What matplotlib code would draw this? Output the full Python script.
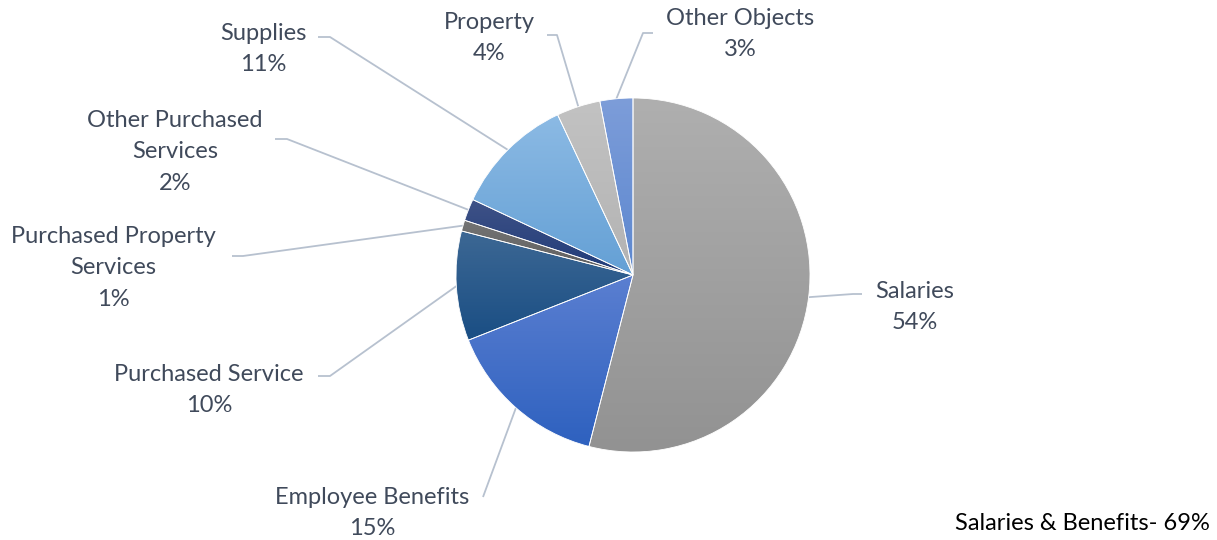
import numpy as np
import matplotlib
matplotlib.use("Agg")
import matplotlib.pyplot as plt
from matplotlib.colors import to_rgb

# spending by object, percent of total
categories = ["Salaries", "Employee Benefits", "Purchased Service",
              "Purchased Property\nServices", "Other Purchased\nServices",
              "Supplies", "Property", "Other Objects"]
shares = [54, 15, 10, 1, 2, 11, 4, 3]
note = "Salaries & Benefits- 69%"

# top/bottom colours of each slice's vertical gradient
fills = [("#AFAFAF", "#929292"), ("#5B7FD1", "#2E61BF"), ("#3D6894", "#1A4E84"),
         ("#747474", "#5E5E5E"), ("#3F5287", "#1F3B78"), ("#8CBAE4", "#64A0D5"),
         ("#C2C2C2", "#B3B3B3"), ("#7D9DD9", "#5C87CF")]

# label centre (px, y down) and the end of the leader's horizontal shoulder
label_pos = [(915, 307), (372, 513), (209, 390), (113, 268), (175, 152),
             (263, 49), (489, 38), (740, 34)]
shoulder = [(862, 294, 853), (483, 497, 483), (318, 376, 330), (232, 256, 243),
            (275, 139, 287), (318, 37, 330), (547, 35, 557), (653, 33, 643)]

W, H = 1217, 540
CX, CY, R = 633, 275, 177
TXT = "#404A5B"
LEAD = "#B7C1CF"
FS = 17

plt.rcParams["font.family"] = ["Lato", "DejaVu Sans"]

fig = plt.figure(figsize=(W / 100, H / 100), dpi=100)
ax = fig.add_axes([0, 0, 1, 1])


def Y(y):
    return H - y


wedges, _ = ax.pie(shares, center=(CX, Y(CY)), radius=R, startangle=90,
                   counterclock=False,
                   wedgeprops=dict(facecolor="none", edgecolor="white",
                                   linewidth=0.6, zorder=3))

for w, (top, bot) in zip(wedges, fills):
    ext = w.get_path().get_extents()
    t = np.linspace(0, 1, 200)[:, None, None]
    grad = (1 - t) * np.array(to_rgb(top)) + t * np.array(to_rgb(bot))
    im = ax.imshow(grad, extent=[ext.x0, ext.x1, ext.y0, ext.y1],
                   origin="upper", aspect="auto", zorder=2,
                   interpolation="bilinear")
    im.set_clip_path(w)

# leader lines and labels
for w, name, val, (lx, ly), (sx, sy, ex) in zip(wedges, categories, shares,
                                                label_pos, shoulder):
    mid = np.deg2rad((w.theta1 + w.theta2) / 2)
    px = CX + R * np.cos(mid)
    py = Y(CY) + R * np.sin(mid)
    ax.plot([sx, ex, px], [Y(sy), Y(sy), py], color=LEAD, lw=1.3,
            zorder=1, solid_capstyle="butt")
    ax.text(lx, Y(ly), f"{name}\n{val}%", ha="center", va="center",
            fontsize=FS, color=TXT, linespacing=1.62)

ax.text(1210, Y(524), note, ha="right", va="center", fontsize=FS,
        color="black")

ax.set_xlim(0, W)
ax.set_ylim(0, H)
ax.set_aspect("equal")
ax.axis("off")

fig.savefig("out.png", dpi=100)
